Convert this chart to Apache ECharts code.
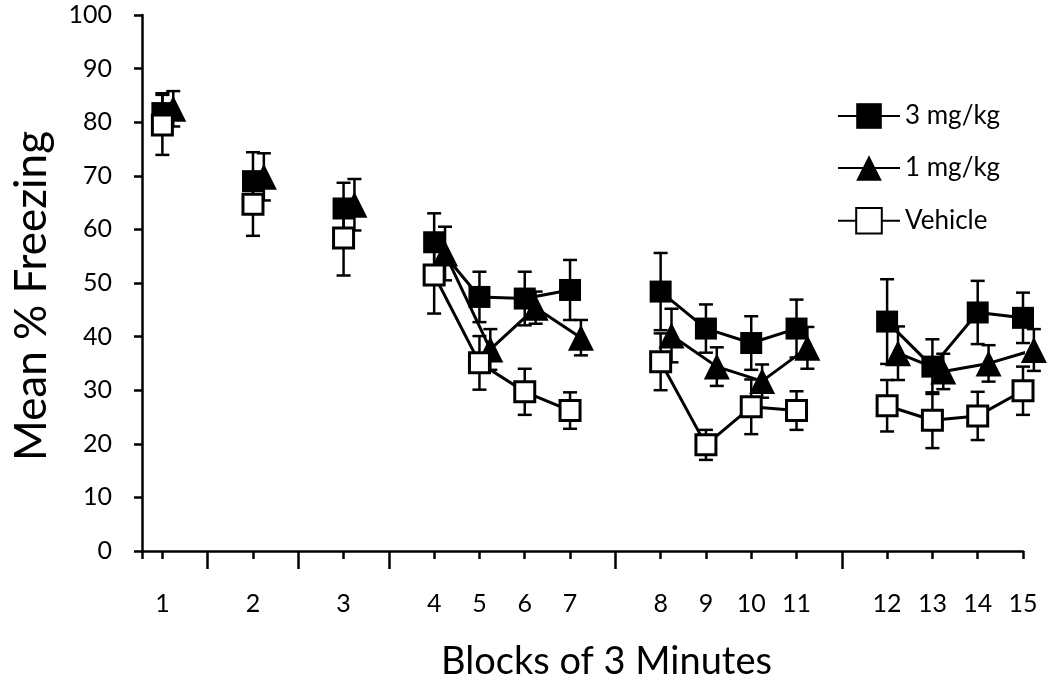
<!DOCTYPE html>
<html>
<head>
<meta charset="utf-8">
<script src="https://cdn.jsdelivr.net/npm/echarts@6/dist/echarts.min.js"></script>
<style>
html,body{margin:0;padding:0;background:#fff;}
#chart{width:1050px;height:688px;}
</style>
</head>
<body>
<div id="chart"></div>
<script>
// Block numbers and their positions on the x axis (slot units; gaps at 2,4,6,11,16)
var blocks = [1,2,3,4,5,6,7,8,9,10,11,12,13,14,15];
var blockX = [1,3,5,7,8,9,10,12,13,14,15,17,18,19,20];
var gapX = [2,4,6,11,16];
var segmentEnds = [1,2,3,7,11]; // blocks after which the line breaks

// Mean % freezing and SEM
var mg3 = [81.7, 69.0, 63.9, 57.6, 47.4, 47.1, 48.7, 48.4, 41.5, 38.8, 41.5, 42.8, 34.4, 44.5, 43.5];
var mg3Err = [3.7, 5.4, 4.8, 5.4, 4.7, 5.0, 5.6, 7.2, 4.5, 5.0, 5.4, 7.9, 5.1, 5.9, 4.7];
var mg1 = [82.5, 69.8, 64.6, 55.5, 37.6, 45.4, 39.8, 40.2, 34.4, 31.7, 37.9, 36.9, 33.5, 35.0, 37.5];
var mg1Err = [3.3, 4.4, 4.8, 5.0, 3.8, 3.0, 3.3, 5.0, 3.6, 3.1, 3.9, 5.0, 3.3, 3.4, 3.9];
var veh = [79.5, 64.7, 58.4, 51.5, 35.1, 29.7, 26.2, 35.3, 19.8, 26.9, 26.2, 27.1, 24.4, 25.2, 29.9];
var vehErr = [5.6, 5.9, 7.0, 7.2, 5.0, 4.3, 3.4, 5.3, 2.8, 5.1, 3.6, 4.8, 5.2, 4.5, 4.5];

var FONT = 'Lato';
var XMIN = 0.55, XMAX = 20;
var TRI_SHIFT = 0.24;

function lineData(vals, shift) {
  var out = [];
  for (var i = 0; i < vals.length; i++) {
    out.push([blockX[i] + shift, vals[i]]);
    if (segmentEnds.indexOf(blocks[i]) >= 0 && i < vals.length - 1) {
      out.push([blockX[i] + shift + 0.5, '-']);
    }
  }
  return out;
}
function errData(vals, errs, shift) {
  return vals.map(function (v, i) { return [blockX[i] + shift, v, errs[i]]; });
}
function errSeries(vals, errs, shift, z) {
  return {
    type: 'custom',
    xAxisIndex: 0, yAxisIndex: 0,
    z: z,
    clip: false,
    silent: true,
    data: errData(vals, errs, shift),
    renderItem: function (params, api) {
      var x = api.value(0), y = api.value(1), e = api.value(2);
      var top = api.coord([x, y + e]);
      var bot = api.coord([x, y - e]);
      var cw = 7;
      var st = { stroke: '#000', lineWidth: 2.5 };
      return {
        type: 'group',
        children: [
          { type: 'line', shape: { x1: top[0], y1: top[1], x2: bot[0], y2: bot[1] }, style: st },
          { type: 'line', shape: { x1: top[0] - cw, y1: top[1], x2: top[0] + cw, y2: top[1] }, style: st },
          { type: 'line', shape: { x1: bot[0] - cw, y1: bot[1], x2: bot[0] + cw, y2: bot[1] }, style: st }
        ]
      };
    }
  };
}

var chart = echarts.init(document.getElementById('chart'), null, { renderer: 'canvas' });
var axisLine = { show: true, lineStyle: { color: '#000', width: 2.5 } };

var option = {
  animation: false,
  backgroundColor: '#fff',
  textStyle: { fontFamily: FONT },
  grid: { left: 142, right: 27, top: 15, bottom: 137, containLabel: false },
  legend: {
    orient: 'vertical',
    left: 832, top: 98,
    itemWidth: 62, itemHeight: 32, itemGap: 26,
    data: ['3 mg/kg', '1 mg/kg', 'Vehicle'],
    textStyle: { fontFamily: FONT, fontSize: 26, color: '#000' }
  },
  xAxis: [
    {
      type: 'value', min: XMIN, max: XMAX,
      splitLine: { show: false },
      axisLine: axisLine,
      axisTick: { show: true, length: 8, lineStyle: { color: '#000', width: 2.5 },
                  customValues: [XMIN].concat(blockX) },
      axisLabel: { show: true, customValues: blockX, margin: 40, fontSize: 25, color: '#000', fontFamily: FONT,
                   formatter: function (v) { var i = blockX.indexOf(v); return i >= 0 ? String(blocks[i]) : ''; } },
      name: 'Blocks of 3 Minutes', nameLocation: 'middle', nameGap: 92,
      nameTextStyle: { fontSize: 38, color: '#000', fontFamily: FONT, padding: [0, 0, 0, 48] }
    },
    {
      type: 'value', min: XMIN, max: XMAX, position: 'bottom', gridIndex: 0,
      splitLine: { show: false },
      axisLine: { show: false },
      axisTick: { show: true, length: 18, lineStyle: { color: '#000', width: 2.5 }, customValues: gapX },
      axisLabel: { show: false }
    }
  ],
  yAxis: {
    type: 'value', min: 0, max: 100, interval: 10,
    splitLine: { show: false },
    axisLine: axisLine,
    axisTick: { show: true, length: 8, lineStyle: { color: '#000', width: 2.5 } },
    axisLabel: { margin: 30, fontSize: 25, color: '#000', fontFamily: FONT },
    name: 'Mean % Freezing', nameLocation: 'middle', nameGap: 88,
    nameTextStyle: { fontSize: 44, color: '#000', fontFamily: FONT, padding: [0, 26, 0, 0] }
  },
  series: [
    errSeries(mg1, mg1Err, TRI_SHIFT, 2),
    errSeries(mg3, mg3Err, 0, 2),
    errSeries(veh, vehErr, 0, 2),
    {
      name: '1 mg/kg', type: 'line', z: 3, clip: false,
      data: lineData(mg1, TRI_SHIFT),
      symbol: 'triangle', symbolSize: [26, 26], showSymbol: true,
      lineStyle: { color: '#000', width: 3 },
      itemStyle: { color: '#000' }
    },
    {
      name: '3 mg/kg', type: 'line', z: 4, clip: false,
      data: lineData(mg3, 0),
      symbol: 'rect', symbolSize: 22, showSymbol: true,
      lineStyle: { color: '#000', width: 3 },
      itemStyle: { color: '#000' }
    },
    {
      name: 'Vehicle', type: 'line', z: 5, clip: false,
      data: lineData(veh, 0),
      symbol: 'rect', symbolSize: 20, showSymbol: true,
      lineStyle: { color: '#000', width: 3 },
      itemStyle: { color: '#fff', borderColor: '#000', borderWidth: 3 }
    }
  ]
};
chart.setOption(option);
</script>
</body>
</html>
